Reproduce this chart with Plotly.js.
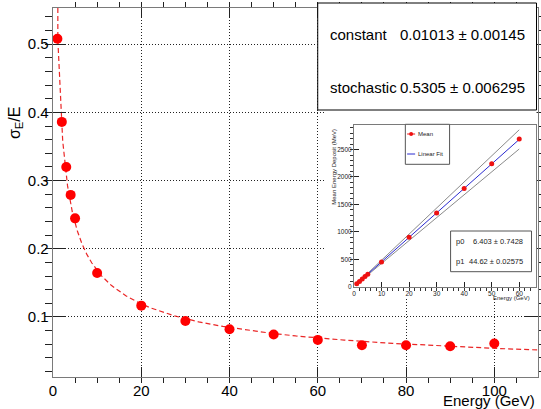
<!DOCTYPE html>
<html><head><meta charset="utf-8">
<script src="https://cdn.plot.ly/plotly-3.0.1.min.js"></script>
<style>html,body{margin:0;padding:0;background:#fff}#c{width:541px;height:409px}</style>
</head><body><div id="c"></div>
<script>
// ---- main graph: energy resolution ----
const energy = [1, 2, 3, 4, 5, 10, 20, 30, 40, 50, 60, 70, 80, 90, 100];
const resolution = [0.508, 0.386, 0.320, 0.279, 0.2446, 0.1646, 0.1166, 0.0942, 0.0820, 0.0743, 0.0664, 0.0586, 0.0586, 0.0571, 0.0610];
// fit curve
const fitE = [1.09, 1.1, 2.2, 3.3, 4.4, 5.5, 6.6, 7.7, 8.8, 9.9, 11, 13.2, 16.5, 19.8, 22, 27.5, 33, 38.5, 44, 49.5, 55, 60.5, 66, 77, 88, 99, 109.9];
const fitRes = [0.60, 0.5059, 0.3578, 0.2922, 0.2531, 0.2264, 0.2067, 0.1914, 0.1791, 0.1689, 0.1603, 0.1464, 0.1310, 0.1197, 0.1136, 0.1017, 0.0929, 0.0861, 0.0806, 0.0761, 0.0722, 0.0690, 0.0661, 0.0613, 0.0575, 0.0543, 0.0516];
const statsLabels = ["constant", "stochastic"];
const statsValues = ["0.01013 \u00b1 0.00145", "0.5305 \u00b1 0.006295"];

// ---- inset: mean energy deposit ----
const insetE = [1, 2, 3, 4, 5, 10, 20, 30, 40, 50, 60];
const insetMean = [52, 96, 140, 184, 229, 450, 900, 1345, 1790, 2240, 2690];
const linFitE = [1, 60];
const linFitMean = [51, 2684];
const bandE = [1, 60];
const bandUpper = [55, 2860];
const bandLower = [48, 2510];
const insetParLabels = ["p0", "p1"];
const insetParValues = ["6.403 \u00b1 0.7428", "44.62 \u00b1 0.02575"];
const legendLabels = ["Mean", "Linear Fit"];

// pixel -> paper helpers (layout positions only)
const L = 53, R = 538.5, T = 8, B = 377;
const px = x => (x - L) / (R - L);
const py = y => (B - y) / (B - T);

const FONT = "Liberation Sans, Arial, Helvetica, sans-serif";

const traces = [
  { x: fitE, y: fitRes, mode: "lines", xaxis: "x", yaxis: "y",
    line: { color: "rgba(230,0,0,0.85)", width: 1.2, dash: "5px,3px" }, hoverinfo: "skip" },
  { x: energy, y: resolution, mode: "markers", xaxis: "x", yaxis: "y",
    marker: { color: "#ff0000", size: 10, line: { width: 0 } } },
  // pad background subplot
  { x: [0.5], y: [0.5], mode: "markers", marker: { size: 1, opacity: 0 }, xaxis: "x2", yaxis: "y2", hoverinfo: "skip" },
  // inset
  { x: bandE, y: bandUpper, mode: "lines", xaxis: "x3", yaxis: "y3", line: { color: "#8a8a8a", width: 1 } },
  { x: bandE, y: bandLower, mode: "lines", xaxis: "x3", yaxis: "y3", line: { color: "#8a8a8a", width: 1 } },
  { x: linFitE, y: linFitMean, mode: "lines", xaxis: "x3", yaxis: "y3", line: { color: "#2a2ad0", width: 1 } },
  { x: insetE, y: insetMean, mode: "markers", xaxis: "x3", yaxis: "y3",
    marker: { color: "#ee1111", size: 5, line: { width: 0 } } }
];

const axisCommon = {
  showline: true, linecolor: "#7a7a7a", linewidth: 1.3, ticks: "inside",
  tickcolor: "#222", tickwidth: 1, zeroline: false, fixedrange: true
};

const annotations = [];
const shapes = [];

// y title
annotations.push({ xref: "paper", yref: "paper", x: px(15), y: py(123), text: "\u03c3<sub>E</sub>/E",
  textangle: -90, showarrow: false, xanchor: "center", yanchor: "middle", font: { family: FONT, size: 16, color: "#000" } });
// x title
annotations.push({ xref: "paper", yref: "paper", x: px(537), y: py(400), text: "Energy (GeV)",
  showarrow: false, xanchor: "right", yanchor: "middle", font: { family: FONT, size: 15, color: "#000" } });

// main stats box
shapes.push({ type: "rect", xref: "paper", yref: "paper", x0: px(318), x1: px(537), y0: py(3), y1: py(110),
  fillcolor: "#fff", line: { color: "#000", width: 1 }, layer: "above" });
const rowY = [34, 87];
for (let i = 0; i < 2; i++) {
  annotations.push({ xref: "paper", yref: "paper", x: px(328), y: py(rowY[i]), text: statsLabels[i],
    showarrow: false, xanchor: "left", yanchor: "middle", font: { family: FONT, size: 15, color: "#000" } });
  annotations.push({ xref: "paper", yref: "paper", x: px(527), y: py(rowY[i]), text: statsValues[i],
    showarrow: false, xanchor: "right", yanchor: "middle", font: { family: FONT, size: 15, color: "#000" } });
}

// inset titles
annotations.push({ xref: "paper", yref: "paper", x: px(334), y: py(127), text: "Mean Energy Deposit (MeV)",
  textangle: -90, showarrow: false, xanchor: "center", yanchor: "top", font: { family: FONT, size: 6, color: "#222" } });
annotations.push({ xref: "paper", yref: "paper", x: px(532), y: py(298), text: "Energy (GeV)",
  showarrow: false, xanchor: "right", yanchor: "middle", font: { family: FONT, size: 6, color: "#222" } });

// inset legend
shapes.push({ type: "rect", xref: "paper", yref: "paper", x0: px(405.7), x1: px(450), y0: py(124.3), y1: py(164.3),
  fillcolor: "#fff", line: { color: "#555", width: 1 }, layer: "above" });
shapes.push({ type: "line", xref: "paper", yref: "paper", x0: px(407.5), x1: px(415.5), y0: py(134), y1: py(134),
  line: { color: "#ee1111", width: 1 }, layer: "above" });
shapes.push({ type: "circle", xref: "paper", yref: "paper", x0: px(409.5), x1: px(413.5), y0: py(132), y1: py(136),
  fillcolor: "#ee1111", line: { width: 0 }, layer: "above" });
shapes.push({ type: "line", xref: "paper", yref: "paper", x0: px(407.5), x1: px(415.5), y0: py(154), y1: py(154),
  line: { color: "#2a2ad0", width: 1 }, layer: "above" });
const legY = [134, 154];
for (let i = 0; i < 2; i++) {
  annotations.push({ xref: "paper", yref: "paper", x: px(416.5), y: py(legY[i]), text: legendLabels[i],
    showarrow: false, xanchor: "left", yanchor: "middle", font: { family: FONT, size: 6, color: "#222" } });
}

// inset parameter box
shapes.push({ type: "rect", xref: "paper", yref: "paper", x0: px(451), x1: px(532), y0: py(231), y1: py(271.7),
  fillcolor: "#fff", line: { color: "#555", width: 1 }, layer: "above" });
const parY = [241, 261];
for (let i = 0; i < 2; i++) {
  annotations.push({ xref: "paper", yref: "paper", x: px(454), y: py(parY[i]), text: insetParLabels[i],
    showarrow: false, xanchor: "left", yanchor: "middle", font: { family: FONT, size: 7.5, color: "#222" } });
  annotations.push({ xref: "paper", yref: "paper", x: px(525), y: py(parY[i]), text: insetParValues[i],
    showarrow: false, xanchor: "right", yanchor: "middle", font: { family: FONT, size: 7.5, color: "#222" } });
}

const layout = {
  width: 541, height: 409,
  margin: { l: L, r: 541 - R, t: T, b: 409 - B, pad: 0 },
  paper_bgcolor: "#fff", plot_bgcolor: "#fff",
  showlegend: false,
  font: { family: FONT, color: "#000" },
  xaxis: Object.assign({}, axisCommon, {
    domain: [0, 1], anchor: "y", range: [0, 109.9], mirror: "ticks",
    dtick: 20, tick0: 0, ticklen: 10,
    minor: { dtick: 5, ticklen: 5, tickcolor: "#222", showgrid: false },
    showgrid: true, gridcolor: "#222", gridwidth: 1, griddash: "1px,2px",
    tickfont: { family: FONT, size: 15, color: "#000" }
  }),
  yaxis: Object.assign({}, axisCommon, {
    domain: [0, 1], anchor: "x", range: [0.012, 0.553], mirror: "ticks",
    dtick: 0.1, tick0: 0, ticklen: 13,
    minor: { dtick: 0.02, ticklen: 7, tickcolor: "#222", showgrid: false },
    showgrid: true, gridcolor: "#222", gridwidth: 1, griddash: "1px,2px",
    tickfont: { family: FONT, size: 15, color: "#000" }
  }),
  xaxis2: { domain: [px(325), px(537)], anchor: "y2", range: [0, 1], visible: false, fixedrange: true },
  yaxis2: { domain: [py(299), py(110)], anchor: "x2", range: [0, 1], visible: false, fixedrange: true },
  xaxis3: Object.assign({}, axisCommon, {
    domain: [px(354.3), px(536)], anchor: "y3", range: [0, 65.9], mirror: true,
    linewidth: 1, dtick: 10, tick0: 0, ticklen: 5,
    minor: { dtick: 2, ticklen: 3, tickcolor: "#333" },
    showgrid: false, tickfont: { family: FONT, size: 6.5, color: "#222" }
  }),
  yaxis3: Object.assign({}, axisCommon, {
    domain: [py(286.7), py(125)], anchor: "x3", range: [0, 2947], mirror: true,
    linewidth: 1, dtick: 500, tick0: 0, ticklen: 5,
    minor: { dtick: 100, ticklen: 3, tickcolor: "#333" },
    showgrid: false, tickfont: { family: FONT, size: 6.5, color: "#222" }
  }),
  shapes: shapes,
  annotations: annotations
};

Plotly.newPlot("c", traces, layout, { staticPlot: true, displayModeBar: false });
</script>
</body></html>
